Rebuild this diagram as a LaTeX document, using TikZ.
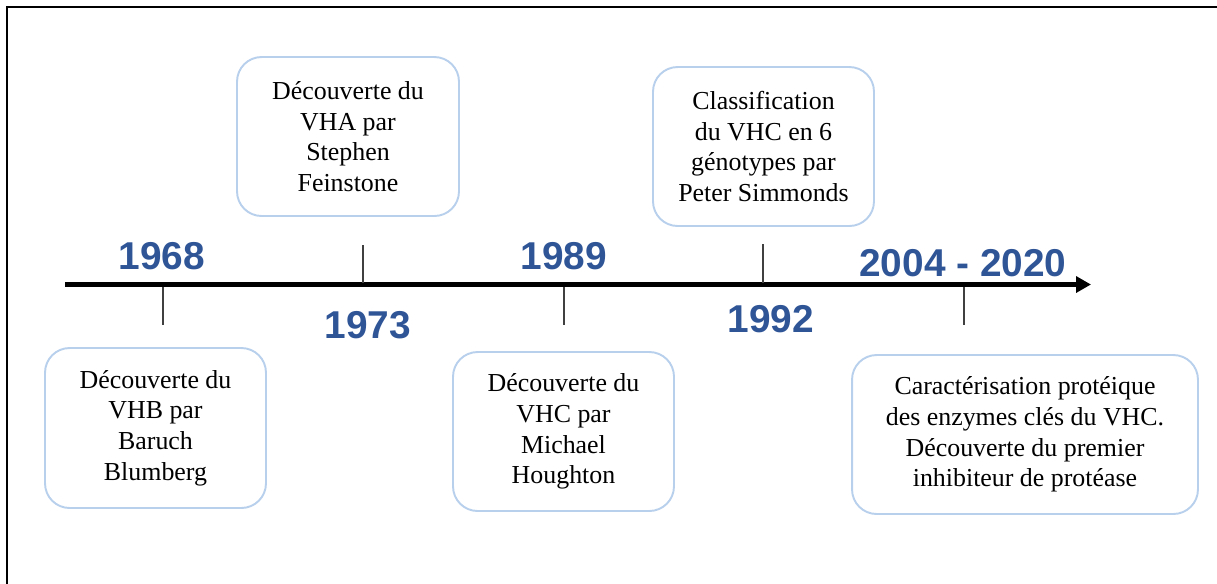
\documentclass[tikz,border=0pt]{standalone}
\usepackage{fontspec}
\setmainfont{Liberation Serif}
\setsansfont{Liberation Sans}
\usetikzlibrary{arrows.meta}
\definecolor{yearblue}{RGB}{47,85,151}
\definecolor{boxblue}{RGB}{184,208,236}
\tikzset{
  eventbox/.style={draw=boxblue, line width=1.1pt, rounded corners=14pt, align=center,
    inner sep=0pt, font=\fontsize{14.74pt}{17.4pt}\selectfont},
  yearlabel/.style={anchor=base, text=yearblue, inner sep=0pt,
    font=\fontsize{22.1pt}{26pt}\selectfont\sffamily\bfseries},
  axisline/.style={line width=2.8pt, -{Triangle[length=8.5pt,width=9pt]}},
  tickline/.style={line width=0.6pt, draw=black!75},
  frameline/.style={line width=1.2pt}
}
\begin{document}
\begin{tikzpicture}[x=0.02cm, y=-0.02cm]
\useasboundingbox (0,0) rectangle (1217,583);
% frame
\coordinate (fbl) at (7,584);
\coordinate (ftl) at (7,7);
\coordinate (ftr) at (1218,7);
\draw[frameline] (fbl) -- (ftl) -- (ftr);
% axis
\coordinate (axs) at (65,284.5);
\coordinate (axe) at (1091,284.5);
\draw[axisline] (axs) -- (axe);
% ticks
\coordinate (t1a) at (163,287); \coordinate (t1b) at (163,325);
\coordinate (t2a) at (363,283); \coordinate (t2b) at (363,245);
\coordinate (t3a) at (564,287); \coordinate (t3b) at (564,325);
\coordinate (t4a) at (763,283); \coordinate (t4b) at (763,244);
\coordinate (t5a) at (964,287); \coordinate (t5b) at (964,325);
\draw[tickline] (t1a) -- (t1b);
\draw[tickline] (t2a) -- (t2b);
\draw[tickline] (t3a) -- (t3b);
\draw[tickline] (t4a) -- (t4b);
\draw[tickline] (t5a) -- (t5b);
% years
\node[yearlabel] (y1) at (162,269) {1968};
\node[yearlabel] (y2) at (368,338) {1973};
\node[yearlabel] (y3) at (564,269) {1989};
\node[yearlabel] (y4) at (771,332) {1992};
\node[yearlabel] (y5) at (963,276) {2004 - 2020};
% boxes
\node[eventbox, minimum width=4.42cm, minimum height=3.2cm] (b1) at (155.5,428)
  {Découverte du\\VHB par\\Baruch\\Blumberg};
\node[eventbox, minimum width=4.44cm, minimum height=3.18cm] (b2) at (348,136.5)
  {Découverte du\\VHA par\\Stephen\\Feinstone};
\node[eventbox, minimum width=4.42cm, minimum height=3.18cm] (b3) at (563.5,431.5)
  {Découverte du\\VHC par\\Michael\\Houghton};
\node[eventbox, minimum width=4.42cm, minimum height=3.18cm] (b4) at (763.5,146.5)
  {Classification\\du VHC en 6\\génotypes par\\Peter Simmonds};
\node[eventbox, minimum width=6.92cm, minimum height=3.18cm] (b5) at (1025,434.5)
  {Caractérisation protéique\\des enzymes clés du VHC.\\Découverte du premier\\inhibiteur de protéase};
\end{tikzpicture}
\end{document}
